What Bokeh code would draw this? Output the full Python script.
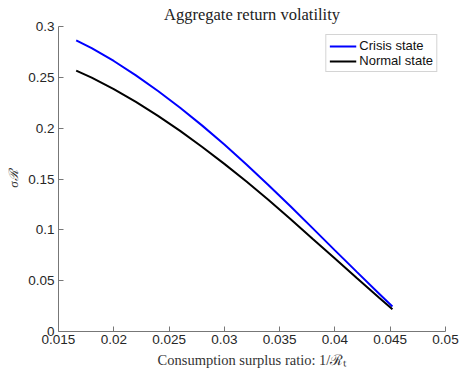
from bokeh.plotting import figure
from bokeh.models import FixedTicker, Legend, LegendItem, Title
from bokeh.embed import file_html
from bokeh.resources import INLINE

# Consumption surplus ratio grid and return volatility per state
surplus_ratio = [0.0166, 0.018, 0.020, 0.022, 0.024, 0.026, 0.028, 0.030,
                 0.032, 0.034, 0.036, 0.038, 0.040, 0.042, 0.044, 0.0452]
vol_crisis = [0.2863, 0.2787, 0.2661, 0.2519, 0.2365, 0.2201, 0.2025, 0.1839,
              0.1643, 0.1439, 0.1229, 0.1014, 0.0798, 0.0584, 0.0372, 0.0246]
vol_normal = [0.2566, 0.2497, 0.2385, 0.2259, 0.2121, 0.1973, 0.1815, 0.1649,
              0.1475, 0.1293, 0.1105, 0.0911, 0.0719, 0.0523, 0.0331, 0.0218]

x_ticks = [0.015, 0.02, 0.025, 0.03, 0.035, 0.04, 0.045, 0.05]
x_tick_labels = ["0.015", "0.02", "0.025", "0.03", "0.035", "0.04", "0.045", "0.05"]
y_ticks = [0, 0.05, 0.1, 0.15, 0.2, 0.25, 0.3]
y_tick_labels = ["0", "0.05", "0.1", "0.15", "0.2", "0.25", "0.3"]

p = figure(width=461, height=377, output_backend="svg", toolbar_location=None,
           x_range=(0.015, 0.05), y_range=(0, 0.3),
           min_border_left=58, min_border_right=16, min_border_top=25, min_border_bottom=46)

p.title = Title(text="Aggregate return volatility", align="center",
                text_font="Liberation Serif", text_font_size="16.5px",
                text_font_style="normal", text_color="#222222", standoff=5)

p.outline_line_color = None
p.grid.visible = False
p.background_fill_color = "white"
p.border_fill_color = "white"

axis_color = "#777777"
for ax in (p.xaxis[0], p.yaxis[0]):
    ax.axis_line_color = axis_color
    ax.major_tick_line_color = axis_color
    ax.major_tick_in = 5
    ax.major_tick_out = 0
    ax.minor_tick_line_color = None
    ax.major_label_text_font = "Liberation Sans"
    ax.major_label_text_font_size = "13.5px"
    ax.major_label_text_color = "#262626"
    ax.axis_label_text_font = "Liberation Serif"
    ax.axis_label_text_font_style = "normal"
    ax.axis_label_text_color = "#333333"

p.xaxis.ticker = FixedTicker(ticks=x_ticks)
p.xaxis.major_label_overrides = dict(zip(x_ticks, x_tick_labels))
p.xaxis.major_label_standoff = 3
p.xaxis.axis_label = "Consumption surplus ratio: 1/ℛₜ"
p.xaxis.axis_label_text_font_size = "14.5px"
p.xaxis.axis_label_standoff = 5

p.yaxis.ticker = FixedTicker(ticks=y_ticks)
p.yaxis.major_label_overrides = dict(zip(y_ticks, y_tick_labels))
p.yaxis.major_label_standoff = 4
p.yaxis.axis_label = "σℛ"
p.yaxis.axis_label_text_font_size = "13px"
p.yaxis.axis_label_text_font_style = "italic"
p.yaxis.axis_label_standoff = 4

r_crisis = p.line(surplus_ratio, vol_crisis, line_color="#0000ff", line_width=2)
r_normal = p.line(surplus_ratio, vol_normal, line_color="black", line_width=2)

legend = Legend(items=[LegendItem(label="Crisis state", renderers=[r_crisis]),
                       LegendItem(label="Normal state", renderers=[r_normal])],
                location="top_right", margin=8, padding=3, spacing=0,
                glyph_width=27, glyph_height=14, label_height=14,
                label_standoff=3,
                label_text_font="Liberation Sans", label_text_font_size="13px",
                label_text_color="#111111",
                border_line_color="#aaaaaa", border_line_width=1,
                background_fill_color="white", background_fill_alpha=1)
p.add_layout(legend)

open("out.html", "w").write(file_html(p, INLINE))
